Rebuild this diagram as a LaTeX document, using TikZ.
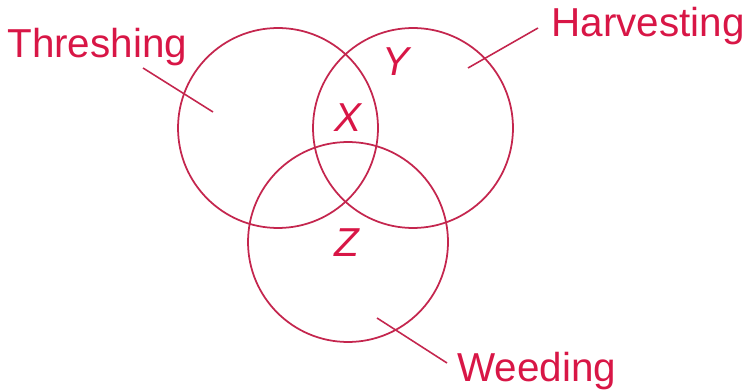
\documentclass[tikz,border=0pt]{standalone}
\usepackage{fontspec}
\setmainfont{Liberation Sans}
\usepackage{xcolor}
\usepackage{tikz}
\usetikzlibrary{positioning, calc}
\definecolor{vred}{RGB}{216, 22, 70}
\definecolor{vline}{RGB}{196, 38, 78}

\begin{document}
\begin{tikzpicture}[x=0.02cm, y=-0.02cm,
        setcircle/.style={draw=vline, line width=1pt, circle, minimum size=4cm, inner sep=0pt},
        setlabel/.style={text=vred, anchor=base west, inner sep=0pt, font=\fontsize{23}{27}\selectfont},
        region/.style={text=vred, inner sep=0pt, font=\fontsize{23}{27}\selectfont\itshape},
        leader/.style={draw=vline, line width=0.9pt}]
        \useasboundingbox (0,0) rectangle (746,391);
        % the three sets
        \node[setcircle] (thresh) at (278,128) {};
        \node[setcircle] (harvest) at (413,128) {};
        \node[setcircle] (weed) at (348,242) {};
        % set names
        \node[setlabel] (threshname) at (7,58) {Threshing};
        \node[setlabel] (harvestname) at (551,37) {Harvesting};
        \node[setlabel] (weedname) at (457,381) {Weeding};
        % regions
        \node[region] (regx) at (348,118) {X};
        \node[region] (regy) at (396,62) {Y};
        \node[region] (regz) at (347,243) {Z};
        % leader lines
        \coordinate (threshin) at (213,112);
        \coordinate (harvestin) at (468,68);
        \coordinate (weedin) at (377,318);
        \draw[leader] ($(threshname.base west)+(136,10)$) -- (threshin);
        \draw[leader] ($(harvestname.base west)+(-13,-9)$) -- (harvestin);
        \draw[leader] ($(weedname.base west)+(-10,-18)$) -- (weedin);
    \end{tikzpicture}
\end{document}
